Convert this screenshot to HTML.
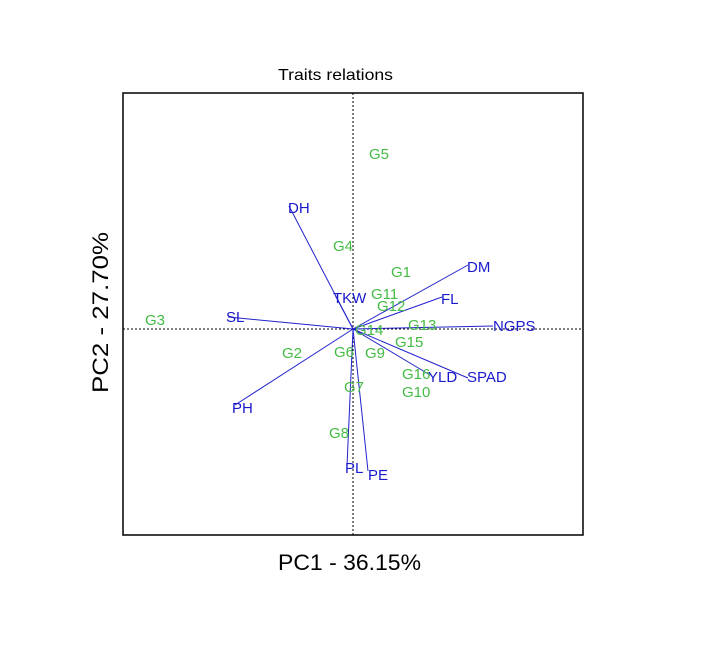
<!DOCTYPE html><html><head><style>body{margin:0;background:#fff}svg text{font-family:"Liberation Sans",sans-serif}</style></head><body>
<svg width="704" height="646" xmlns="http://www.w3.org/2000/svg">
<rect width="704" height="646" fill="#fff"/>
<text x="278" y="80" font-size="16" textLength="115" lengthAdjust="spacingAndGlyphs">Traits relations</text>
<rect x="123" y="93" width="460" height="442" fill="none" stroke="#000" stroke-width="1.5"/>
<line x1="353" y1="93" x2="353" y2="535" stroke="#000" stroke-dasharray="2,2"/>
<line x1="123" y1="329" x2="583" y2="329" stroke="#000" stroke-dasharray="2,2"/>
<g stroke="#2222cc" stroke-width="1">
<line x1="353" y1="329" x2="289" y2="206"/>
<line x1="353" y1="329" x2="468" y2="265"/>
<line x1="353" y1="329" x2="442" y2="297"/>
<line x1="353" y1="329" x2="493" y2="326"/>
<line x1="353" y1="329" x2="468" y2="378"/>
<line x1="353" y1="329" x2="430" y2="375"/>
<line x1="353" y1="329" x2="368" y2="471"/>
<line x1="353" y1="329" x2="347" y2="466"/>
<line x1="353" y1="329" x2="235" y2="405"/>
<line x1="353" y1="329" x2="228" y2="317"/>
<line x1="353" y1="329" x2="335" y2="295"/>
</g>
<g fill="#1a1acc" font-size="15">
<text x="288" y="213">DH</text>
<text x="467" y="272">DM</text>
<text x="441" y="304">FL</text>
<text x="493" y="331">NGPS</text>
<text x="467" y="382">SPAD</text>
<text x="428" y="382">YLD</text>
<text x="368" y="480">PE</text>
<text x="345" y="473">PL</text>
<text x="232" y="413">PH</text>
<text x="226" y="322">SL</text>
<text x="333" y="303">TKW</text>
</g>
<g fill="#44bb44" font-size="15">
<text x="369" y="159">G5</text>
<text x="333" y="251">G4</text>
<text x="391" y="277">G1</text>
<text x="371" y="299">G11</text>
<text x="377" y="311">G12</text>
<text x="145" y="325">G3</text>
<text x="355" y="335">G14</text>
<text x="408" y="330">G13</text>
<text x="395" y="347">G15</text>
<text x="282" y="358">G2</text>
<text x="334" y="357">G6</text>
<text x="365" y="358">G9</text>
<text x="402" y="379">G16</text>
<text x="402" y="397">G10</text>
<text x="344" y="392">G7</text>
<text x="329" y="438">G8</text>
</g>
<text x="278" y="570" font-size="22" textLength="143" lengthAdjust="spacingAndGlyphs">PC1 - 36.15%</text>
<text transform="translate(108,393) rotate(-90)" font-size="22" textLength="161" lengthAdjust="spacingAndGlyphs">PC2 - 27.70%</text>
</svg></body></html>
